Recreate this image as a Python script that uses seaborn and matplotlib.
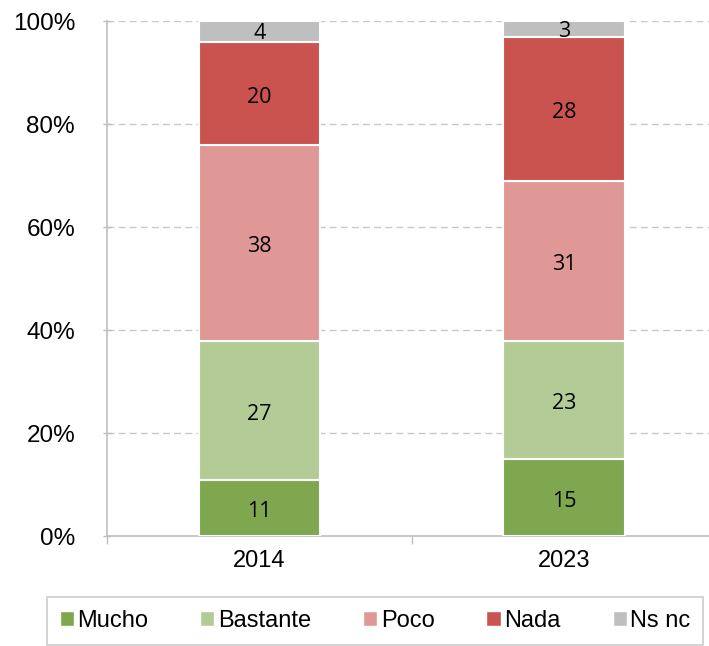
import numpy as np
import pandas as pd
import matplotlib
matplotlib.use("Agg")
import matplotlib.pyplot as plt
import matplotlib.patches as mpatches
import seaborn as sns

# datos
anios = ["2014", "2023"]
categorias = ["Mucho", "Bastante", "Poco", "Nada", "Ns nc"]
mucho = [11, 15]
bastante = [27, 23]
poco = [38, 31]
nada = [20, 28]
nsnc = [4, 3]

COLORES = ["#7FA74F", "#B3CC96", "#E09896", "#CB534F", "#BFBFBF"]

sns.set_style("white")
plt.rcParams["font.family"] = ["Liberation Sans", "DejaVu Sans"]
plt.rcParams["text.color"] = "black"
plt.rcParams["xtick.color"] = "black"
plt.rcParams["ytick.color"] = "black"

fig = plt.figure(figsize=(7.09, 6.46), dpi=100)
ax = fig.add_axes([0.151, 0.170, 0.86, 0.797])

series = [mucho, bastante, poco, nada, nsnc]
base = np.zeros(len(anios))
for nombre, valores, color in zip(categorias, series, COLORES):
    df = pd.DataFrame({"anio": anios, "valor": valores})
    sns.barplot(data=df, x="anio", y="valor", bottom=base, color=color,
                width=0.4, edgecolor="white", linewidth=1.5,
                saturation=1, ax=ax, zorder=3)
    for i, v in enumerate(valores):
        if v <= 5:
            y = base[i] + v / 2 - 0.4
        else:
            y = base[i] + v / 2 - 0.8
        ax.text(i, y, f"{v}", ha="center", va="center",
                fontsize=15.5, family="Open Sans", color="black", zorder=4)
    base = base + np.array(valores)

ax.set_ylim(0, 100)
ax.set_xlim(-0.5, 1.5)
ax.set_yticks(range(0, 101, 20))
ax.set_yticklabels([f"{t}%" for t in range(0, 101, 20)], fontsize=17.5)
ax.tick_params(axis="x", labelsize=17, length=0, pad=10, labelcolor="black")
ax.tick_params(axis="y", length=6, width=1, color="#BFBFBF", direction="inout",
               pad=20, left=True, labelcolor="black")
ax.set_xlabel("")
ax.set_ylabel("")

# separadores de categoria en el eje x
ax.set_xticks([-0.5, 0.5, 1.5], minor=True)
ax.tick_params(axis="x", which="minor", length=6, color="#BFBFBF", width=1, bottom=True)

ax.grid(axis="y", color="#C8C8C8", linestyle=(0, (5, 3)), linewidth=1, zorder=0)
ax.set_axisbelow(True)
for s in ["top", "right"]:
    ax.spines[s].set_visible(False)
for s in ["left", "bottom"]:
    ax.spines[s].set_color("#BFBFBF")
    ax.spines[s].set_linewidth(1.2)

handles = [mpatches.Patch(facecolor=c, edgecolor="white", label=n)
           for n, c in zip(categorias, COLORES)]
leg = fig.legend(handles=handles, loc="center", ncol=5,
                 bbox_to_anchor=(0.529, 0.0387), fontsize=17,
                 frameon=True, fancybox=False, edgecolor="#BFBFBF",
                 handlelength=0.6, handleheight=0.6, handletextpad=0.15,
                 columnspacing=2.2, borderpad=0.55, borderaxespad=0)
leg.get_frame().set_linewidth(1.2)

fig.savefig("out.png", dpi=100)
